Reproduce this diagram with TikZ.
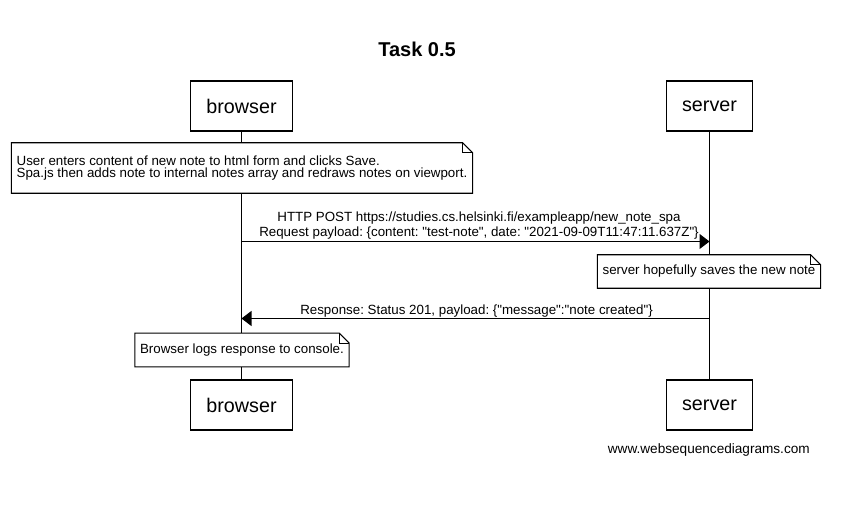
\documentclass[tikz,border=0pt]{standalone}
\usepackage{fontspec}
\setmainfont{Liberation Sans}[Ligatures=TeXOff]
\usetikzlibrary{positioning,arrows.meta}
\frenchspacing

\begin{document}
\begin{tikzpicture}[x=0.75pt,y=-0.75pt]
\tikzstyle{every node}+=[inner sep=0pt]
\tikzstyle{actor}=[draw=black, line width=0.8pt, fill=white, minimum height=37.5pt, inner xsep=12pt, font=\fontsize{14.8}{17}\selectfont]
\tikzstyle{note}=[fill=white, inner xsep=3.75pt, align=left, font=\fontsize{10}{9.25}\selectfont]
\tikzstyle{msg}=[draw=black, line width=0.8pt, -{Triangle[length=7.5pt,width=11.25pt]}]
\tikzstyle{msglabel}=[align=center, font=\fontsize{10}{11.75}\selectfont]
\useasboundingbox (0,0) rectangle (850,509);
\node [font=\bfseries\fontsize{15}{18}\selectfont] (title) at (417,49) {Task 0.5};
\node [actor] (browserTop) at (241.5,106) {browser};
\node [actor] (serverTop) at (709.5,106) {server};
\node [actor] (browserBot) at (241.5,405) {browser};
\node [actor] (serverBot) at (709.5,405) {server};
% lifelines
\draw [line width=0.8pt] (browserTop) -- (browserBot);
\draw [line width=0.8pt] (serverTop) -- (serverBot);
% notes
\node [note, minimum height=37.5pt] (noteSave) at (242,168) {User enters content of new note to html form and clicks Save.\\Spa.js then adds note to internal notes array and redraws notes on viewport.};
\node [note, minimum height=24.75pt] (noteStore) at (709,271.5) {server hopefully saves the new note};
\node [note, minimum height=25pt] (noteLog) at (242,350) {Browser logs response to console.};
\foreach \n in {noteSave,noteStore,noteLog}{
  \draw [line width=0.8pt] (\n.north west) -- ([xshift=-7.5pt]\n.north east) -- ([yshift=-7.5pt]\n.north east) -- (\n.south east) -- (\n.south west) -- cycle;
  \draw [line width=0.8pt] ([xshift=-7.5pt]\n.north east) |- ([yshift=-7.5pt]\n.north east);
}
% messages
\coordinate (postB) at (241.5,241.5);
\coordinate (postS) at (709.5,241.5);
\coordinate (respS) at (709.5,318.5);
\coordinate (respB) at (241.5,318.5);
\draw [msg] (postB) -- (postS);
\node [msglabel, anchor=south] (postLbl) at (479,240) {HTTP POST https://studies.cs.helsinki.fi/exampleapp/new\_note\_spa\\Request payload: \{content: "test-note", date: "2021-09-09T11:47:11.637Z"\}};
\draw [msg] (respS) -- (respB);
\node [msglabel, anchor=base] (respLbl) at (476.5,314.5) {Response: Status 201, payload: \{"message":"note created"\}};
\node [anchor=base east, font=\fontsize{10.2}{12}\selectfont] (wsd) at (810,453.5) {www.websequencediagrams.com};
\end{tikzpicture}
\end{document}
